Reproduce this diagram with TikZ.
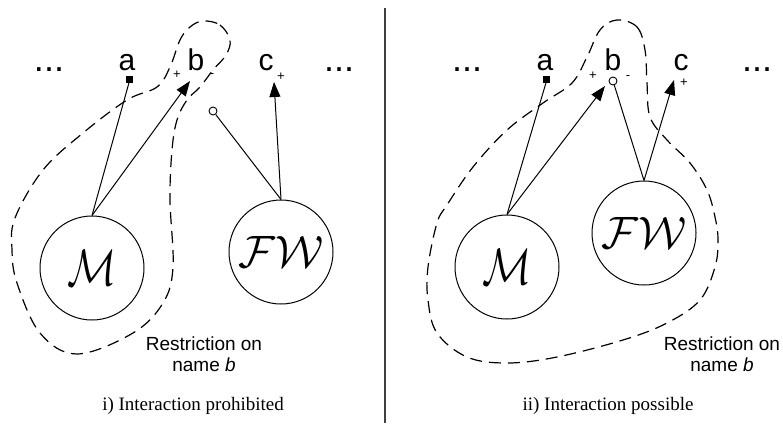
\documentclass[tikz,border=0pt]{standalone}
\usepackage{fontspec}
\setmainfont{Liberation Serif}
\newfontfamily\arialf{Liberation Sans}
\usetikzlibrary{arrows.meta}
\tikzset{
  lab/.style={font=\arialf\fontsize{30}{30}\selectfont, anchor=base, inner sep=0},
  dots/.style={font=\arialf\fontsize{36}{36}\selectfont, anchor=base, inner sep=0},
  sgn/.style={font=\arialf\fontsize{13}{13}\selectfont, inner sep=0},
  proc/.style={circle, draw, line width=1pt, minimum size=104pt, inner sep=0},
  sq/.style={rectangle, fill=black, minimum size=7pt, inner sep=0},
  oc/.style={circle, draw, fill=white, line width=0.9pt, minimum size=8pt, inner sep=0},
  conn/.style={line width=1pt},
  arr/.style={line width=1pt, -{Triangle[length=15pt,width=11pt]}},
  bound/.style={dash pattern=on 12pt off 7pt, line width=1.2pt},
  note/.style={font=\arialf\fontsize{19}{21}\selectfont, align=center, inner sep=0},
  capt/.style={font=\fontsize{19}{21}\selectfont, inner sep=0}
}
\newcommand{\calM}{\resizebox{49pt}{35pt}{$\mathcal{M}$}}
\newcommand{\calFW}{\resizebox{85pt}{31pt}{$\mathcal{FW}$}}
\begin{document}
\begin{tikzpicture}[x=1pt,y=-1pt]
\useasboundingbox (0,0) rectangle (783,423);
% divider
\draw[line width=1.2pt, black!75] (385,8) -- (385,423);

% ---------- left panel ----------
\node[dots] (d1) at (49,71) {...};
\node[lab] (la1) at (127,70) {a};
\node[lab] (lb1) at (196,70) {b};
\node[lab] (lc1) at (266,70) {c};
\node[dots] (d2) at (339,71) {...};
\node[sgn] (p1) at (177,75) {+};
\node[sgn] (m1) at (212,76) {-};
\node[sgn] (p2) at (281,77) {+};

\node[proc] (M1) at (92,268) {\calM};
\node[proc] (F1) at (281,252) {\calFW};
\node[sq] (sa1) at (129,79) {};
\coordinate (tb1) at (190,81);
\coordinate (tc1) at (274,82);
\node[oc] (o1) at (213,111) {};

\draw[conn] (M1.north) -- (sa1.south);
\draw[arr] (M1.north) -- (tb1);
\draw[conn] (F1.north) -- (o1);
\draw[arr] (F1.north) -- (tc1);

\draw[bound] plot[smooth cycle, tension=0.6] coordinates {
 (203,21) (220,25) (230,40) (226,55) (213,70) (200,87) (187,100) (177,120) (172,150) (170,200)
 (173,267) (163,303) (133,333) (77,354) (40,333) (17,283) (12,250) (15,218) (43,170) (83,133)
 (127,100) (157,87) (170,67) (180,40) (190,27)};

\node[note] (n1) at (204,354) {Restriction on\\name \textit{b}};
\node[capt] (c1) at (193,406) {i) Interaction prohibited};

% ---------- right panel ----------
\node[dots] (d3) at (467,71) {...};
\node[lab] (la2) at (545,70) {a};
\node[lab] (lb2) at (613,70) {b};
\node[lab] (lc2) at (681,70) {c};
\node[dots] (d4) at (757,71) {...};
\node[sgn] (p3) at (593,76) {+};
\node[sgn] (m2) at (628,78) {-};
\node[sgn] (p4) at (684,83) {+};

\node[proc] (M2) at (507,267) {\calM};
\node[proc] (F2) at (644,233) {\calFW};
\node[sq] (sa2) at (546,79) {};
\coordinate (tb2) at (605,86);
\coordinate (tc2) at (674,80);
\node[oc] (o2) at (613,81) {};

\draw[conn] (M2.north) -- (sa2.south);
\draw[arr] (M2.north) -- (tb2);
\draw[conn] (F2.north) -- (o2);
\draw[arr] (F2.north) -- (tc2);

\draw[bound] plot[smooth cycle, tension=0.6] coordinates {
 (617,20) (637,27) (645,50) (647,83) (650,117) (667,140) (690,163) (707,190) (715,217) (718,240)
 (715,267) (700,300) (667,323) (623,340) (557,357) (507,363) (467,357) (437,333) (428,300) (428,267)
 (437,223) (447,205) (473,167) (507,130) (543,103) (572,83) (587,57) (600,30)};

\node[note] (n2) at (722,354) {Restriction on\\name \textit{b}};
\node[capt] (c2) at (608,406) {ii) Interaction possible};
\end{tikzpicture}
\end{document}
